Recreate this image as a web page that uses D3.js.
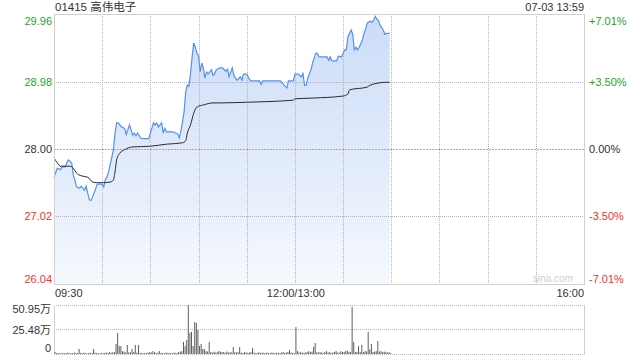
<!DOCTYPE html>
<html>
<head>
<meta charset="utf-8">
<script src="https://cdn.jsdelivr.net/npm/d3@7"></script>
<style>
    html, body { margin: 0; padding: 0; background: #fff; }
    #chart { width: 640px; height: 360px; }
    text { font-family: Arial, "Liberation Sans", "Noto Sans CJK SC", sans-serif; }
</style>
</head>
<body>
<div id="chart"></div>
<script>
// Stock info
const title = '01415 高伟电子';
const stamp = '07-03 13:59';
const prevClose = 28.00;
const maxPct = 7.01;

// Tick labels
const priceTicks = [29.96, 28.98, 28.00, 27.02, 26.04];
const pctTicks = ['+7.01%', '+3.50%', '0.00%', '-3.50%', '-7.01%'];
const timeTicks = ['09:30', '12:00/13:00', '16:00'];
const volTicks = [50.95, 25.48, 0];

// Price line
const priceTimes = ['09:30','09:32','09:34','09:35','09:37','09:38','09:39','09:41','09:42','09:43','09:44','09:46','09:47','09:49','09:50','09:51','09:52','09:53','09:54','09:56','09:57','10:00','10:01','10:02','10:03','10:04','10:06','10:07','10:08','10:09','10:10','10:12','10:14','10:15','10:17','10:19','10:20','10:21','10:22','10:24','10:25','10:29','10:30','10:32','10:33','10:34','10:35','10:37','10:38','10:39','10:40','10:44','10:47','10:48','10:49','10:50','10:51','10:52','10:53','10:54','10:55','10:56','10:57','10:58','10:59','11:00','11:01','11:02','11:03','11:04','11:05','11:06','11:08','11:09','11:10','11:11','11:13','11:15','11:17','11:18','11:19','11:21','11:22','11:23','11:24','11:26','11:27','11:28','11:30','11:32','11:33','11:38','11:39','11:40','11:51','11:52','11:54','11:55','11:56','11:59','13:00','13:02','13:04','13:05','13:06','13:07','13:08','13:10','13:11','13:13','13:14','13:15','13:20','13:21','13:22','13:23','13:26','13:27','13:29','13:30','13:31','13:32','13:33','13:35','13:36','13:37','13:38','13:39','13:40','13:42','13:43','13:44','13:45','13:47','13:48','13:49','13:50','13:51','13:52','13:53','13:55','13:56','13:57','13:59'];
const prices = [27.59,27.72,27.70,27.74,27.74,27.80,27.84,27.80,27.62,27.55,27.45,27.43,27.46,27.40,27.46,27.36,27.26,27.25,27.30,27.43,27.49,27.49,27.45,27.56,27.59,27.67,27.88,27.99,28.23,28.38,28.38,28.32,28.30,28.21,28.35,28.20,28.23,28.19,28.23,28.16,28.15,28.15,28.23,28.38,28.35,28.38,28.32,28.38,28.23,28.30,28.25,28.25,28.22,28.16,28.26,28.39,28.54,28.83,28.93,28.91,29.10,29.34,29.54,29.48,29.39,29.36,29.12,29.25,29.18,29.03,29.12,29.09,29.15,29.07,29.09,29.15,29.18,29.18,29.13,29.16,29.05,29.18,29.07,29.03,29.00,29.05,29.00,29.09,29.09,29.00,28.99,28.99,28.94,28.99,28.99,28.96,28.91,28.89,28.99,28.99,29.09,29.09,29.05,29.10,28.93,28.93,29.03,29.15,29.25,29.39,29.39,29.34,29.34,29.29,29.34,29.28,29.28,29.35,29.34,29.39,29.44,29.44,29.63,29.73,29.67,29.44,29.48,29.44,29.48,29.58,29.68,29.74,29.83,29.86,29.84,29.87,29.93,29.89,29.87,29.80,29.73,29.67,29.68,29.68];

// Average price line
const avgTimes = ['09:30','09:32','09:34','09:40','09:42','09:44','09:47','09:51','09:54','09:57','10:00','10:05','10:07','10:08','10:09','10:11','10:14','10:19','10:30','10:40','10:50','10:52','10:53','10:55','10:57','10:59','11:03','11:09','11:13','11:30','11:59','13:00','13:11','13:30','13:33','13:34','13:45','13:47','13:57','13:59'];
const avgPrices = [27.87,27.80,27.75,27.75,27.72,27.65,27.61,27.59,27.52,27.51,27.51,27.52,27.55,27.67,27.84,27.94,27.99,28.03,28.04,28.07,28.09,28.12,28.23,28.35,28.52,28.61,28.64,28.67,28.67,28.68,28.71,28.73,28.74,28.77,28.80,28.86,28.90,28.93,28.97,28.97];

// Volume per minute from 09:30 (万股)
const volumes = [
    2, 1, 0.8, 1, 0.6, 1.2, 0.8, 1, 1.5, 0.7,
    1, 0.8, 1.5, 1.2, 1, 5.2, 1.2, 0.8, 1.5, 1,
    0.6, 1, 1.4, 0.8, 5.2, 1.3, 1, 0.8, 0.6, 1,
    0.8, 1.2, 1.5, 1, 2, 1.2, 1.8, 2, 10.4, 22,
    8.3, 8.3, 3, 2.5, 1.5, 9.4, 2, 1.5, 5.2, 2,
    9.4, 1.5, 9.4, 1.2, 1, 0.8, 1.2, 1, 1.5, 2,
    1.5, 3, 2, 1, 1.5, 3, 1.2, 1, 0.8, 1.5,
    1, 1.2, 1, 0.8, 1.5, 1, 1.2, 2, 2.5, 3,
    12.5, 8.3, 14.6, 50.95, 22, 23, 8.3, 33.3, 32.3, 25,
    8.3, 10.4, 5.2, 5.2, 3, 2.5, 12.5, 2, 1.5, 2.5,
    1.5, 2, 3, 2.5, 2, 2, 1.5, 2.5, 1.5, 2,
    1.5, 7.3, 2, 1.5, 2, 7.3, 1.5, 1, 2, 1.5,
    1.2, 1.5, 2, 6.2, 1.5, 1, 1.2, 1.8, 1, 1.5,
    1.2, 1, 1.5, 1.2, 1, 1.5, 1.2, 1, 1.5, 1.2,
    1, 1.5, 2, 1.2, 1.5, 2, 4.2, 1.5, 1.2, 1,
    28, 3, 1.5, 2, 1.5, 1.2, 1.5, 2, 3, 2,
    2.5, 7.3, 11.4, 2, 1.5, 2, 1.5, 1.2, 2, 3,
    1.5, 2, 1.2, 1.5, 2, 3, 1.5, 1.5, 3, 2,
    2, 3, 3.5, 2, 2, 49, 12.5, 2, 2, 8.3,
    2, 9.4, 2, 3, 2.5, 23, 5, 10.4, 2, 2.5,
    3, 13.5, 2.5, 3, 2, 2.5, 2, 1.5, 2, 1
];

// "HH:MM" -> trading minute index (lunch break removed)
function minuteIndex(t) {
    const [h, m] = t.split(':').map(Number);
    const mins = h * 60 + m;
    if (mins <= 12 * 60) return mins - (9 * 60 + 30);
    return mins - 13 * 60 + 150;
}

const green = '#1fa51f';
const red = '#f5322d';
const dark = '#333';

const svg = d3.select('#chart').append('svg')
    .attr('width', 640)
    .attr('height', 360);

const plot = { left: 54, right: 584, top: 14, bottom: 284 };
const volBox = { top: 305, bottom: 354 };

// Scales
const x = d3.scaleLinear().domain([0, 330]).range([plot.left, plot.right]);
const y = d3.scaleLinear()
    .domain([prevClose * (1 - maxPct / 100), prevClose * (1 + maxPct / 100)])
    .range([plot.bottom, plot.top]);
const yVol = d3.scaleLinear().domain([0, 50.95]).range([volBox.bottom, volBox.top]);

// Gradient for the area
const defs = svg.append('defs');
const grad = defs.append('linearGradient')
    .attr('id', 'areaFill')
    .attr('gradientUnits', 'userSpaceOnUse')
    .attr('x1', 0).attr('x2', 0)
    .attr('y1', plot.top).attr('y2', plot.bottom);
grad.append('stop').attr('offset', 0).attr('stop-color', '#cbdcf8');
grad.append('stop').attr('offset', 1).attr('stop-color', '#f5f8fe');

// Area and price line
const pricePts = priceTimes.map((t, i) => ({ m: minuteIndex(t), v: prices[i] }));
const avgPts = avgTimes.map((t, i) => ({ m: minuteIndex(t), v: avgPrices[i] }));

const area = d3.area()
    .x(d => x(d.m))
    .y0(plot.bottom)
    .y1(d => y(d.v));

svg.append('path')
    .datum(pricePts)
    .attr('d', area)
    .attr('fill', 'url(#areaFill)');

// Vertical grid (every half hour), drawn over the area
const vGrid = d3.range(1, 11);
svg.append('g')
    .selectAll('line')
    .data(vGrid)
    .enter()
    .append('line')
    .attr('x1', d => Math.round(x(d * 30)) + 0.5)
    .attr('x2', d => Math.round(x(d * 30)) + 0.5)
    .attr('y1', plot.top)
    .attr('y2', plot.bottom)
    .attr('stroke', '#b4b4b4')
    .attr('stroke-dasharray', '1,1');

// Horizontal grid
svg.append('g')
    .selectAll('line')
    .data(priceTicks.slice(1, 4))
    .enter()
    .append('line')
    .attr('x1', plot.left)
    .attr('x2', plot.right)
    .attr('y1', d => Math.round(y(d)) + 0.5)
    .attr('y2', d => Math.round(y(d)) + 0.5)
    .attr('stroke', d => d === prevClose ? '#a8a8a8' : '#b4b4b4')
    .attr('stroke-dasharray', d => d === prevClose ? '2,1' : '1,1');

const line = d3.line()
    .x(d => x(d.m))
    .y(d => y(d.v));

svg.append('path')
    .datum(pricePts)
    .attr('d', line)
    .attr('fill', 'none')
    .attr('stroke', '#5790ec')
    .attr('stroke-width', 1.2);

svg.append('path')
    .datum(avgPts)
    .attr('d', d3.line().x(d => x(d.m)).y(d => y(d.v)).curve(d3.curveMonotoneX))
    .attr('fill', 'none')
    .attr('stroke', '#2b2b2b')
    .attr('stroke-width', 1);

// Frame of the price panel
svg.append('rect')
    .attr('x', plot.left + 0.5)
    .attr('y', plot.top + 0.5)
    .attr('width', plot.right - plot.left)
    .attr('height', plot.bottom - plot.top)
    .attr('fill', 'none')
    .attr('stroke', '#d0d0d0');

// Watermark
svg.append('text')
    .attr('x', 573)
    .attr('y', 282)
    .attr('text-anchor', 'end')
    .attr('font-size', 10)
    .attr('fill', '#d0d0d0')
    .text('sina.com');

// Left price axis
const tickColor = d => d > prevClose ? green : (d < prevClose ? red : dark);
const leftAxis = svg.append('g')
    .attr('transform', `translate(${plot.left - 2},0)`)
    .call(d3.axisLeft(y).tickValues(priceTicks).tickSize(0).tickPadding(0)
        .tickFormat(d => d.toFixed(2)));
leftAxis.select('.domain').remove();
leftAxis.selectAll('text')
    .attr('font-size', 11)
    .attr('fill', d => tickColor(d))
    .attr('dy', (d, i) => i === 0 ? '0.95em' : (i === 4 ? '-0.15em' : '0.32em'));

// Right percent axis
const rightAxis = svg.append('g')
    .attr('transform', `translate(${plot.right + 5},0)`)
    .call(d3.axisRight(y).tickValues(priceTicks).tickSize(0).tickPadding(0)
        .tickFormat((d, i) => pctTicks[i]));
rightAxis.select('.domain').remove();
rightAxis.selectAll('text')
    .attr('font-size', 11)
    .attr('fill', d => tickColor(d))
    .attr('dy', (d, i) => i === 0 ? '0.95em' : (i === 4 ? '-0.15em' : '0.32em'));

// Title and timestamp
svg.append('text')
    .attr('x', plot.left + 1)
    .attr('y', 11)
    .attr('font-size', 11.5)
    .attr('fill', dark)
    .text(title);

svg.append('text')
    .attr('x', plot.right)
    .attr('y', 11)
    .attr('text-anchor', 'end')
    .attr('font-size', 11)
    .attr('fill', dark)
    .text(stamp);

// Time labels
const timePos = [0, 150, 330];
const timeAnchor = ['start', 'middle', 'end'];
svg.append('g')
    .selectAll('text')
    .data(timeTicks)
    .enter()
    .append('text')
    .attr('x', (d, i) => x(timePos[i]) + (i === 2 ? 0 : 1))
    .attr('y', 297)
    .attr('text-anchor', (d, i) => timeAnchor[i])
    .attr('font-size', 11)
    .attr('fill', dark)
    .text(d => d);

// Volume panel grid
svg.append('g')
    .selectAll('line')
    .data(volTicks)
    .enter()
    .append('line')
    .attr('x1', plot.left)
    .attr('x2', plot.right)
    .attr('y1', d => Math.round(yVol(d)) + 0.5)
    .attr('y2', d => Math.round(yVol(d)) + 0.5)
    .attr('stroke', '#b4b4b4')
    .attr('stroke-dasharray', '1,1');

svg.append('g')
    .selectAll('line')
    .data([plot.left, plot.right])
    .enter()
    .append('line')
    .attr('x1', d => d + 0.5)
    .attr('x2', d => d + 0.5)
    .attr('y1', volBox.top)
    .attr('y2', volBox.bottom + 1)
    .attr('stroke', '#d0d0d0');

// Volume bars
svg.append('g')
    .selectAll('rect')
    .data(volumes)
    .enter()
    .append('rect')
    .attr('x', (d, i) => x(i) + 0.5)
    .attr('y', d => yVol(d))
    .attr('width', 1)
    .attr('height', d => yVol(0) - yVol(d))
    .attr('fill', '#5e5e5e');

// Volume labels
const volAxis = svg.append('g')
    .attr('transform', `translate(${plot.left - 3},0)`)
    .call(d3.axisLeft(yVol).tickValues(volTicks).tickSize(0).tickPadding(0)
        .tickFormat(d => d === 0 ? '0' : d.toFixed(2) + '万'));
volAxis.select('.domain').remove();
volAxis.selectAll('text')
    .attr('font-size', 11)
    .attr('fill', dark)
    .attr('dy', (d, i) => i === 0 ? '0.7em' : (i === 2 ? '-0.2em' : '0.32em'));
</script>
</body>
</html>
